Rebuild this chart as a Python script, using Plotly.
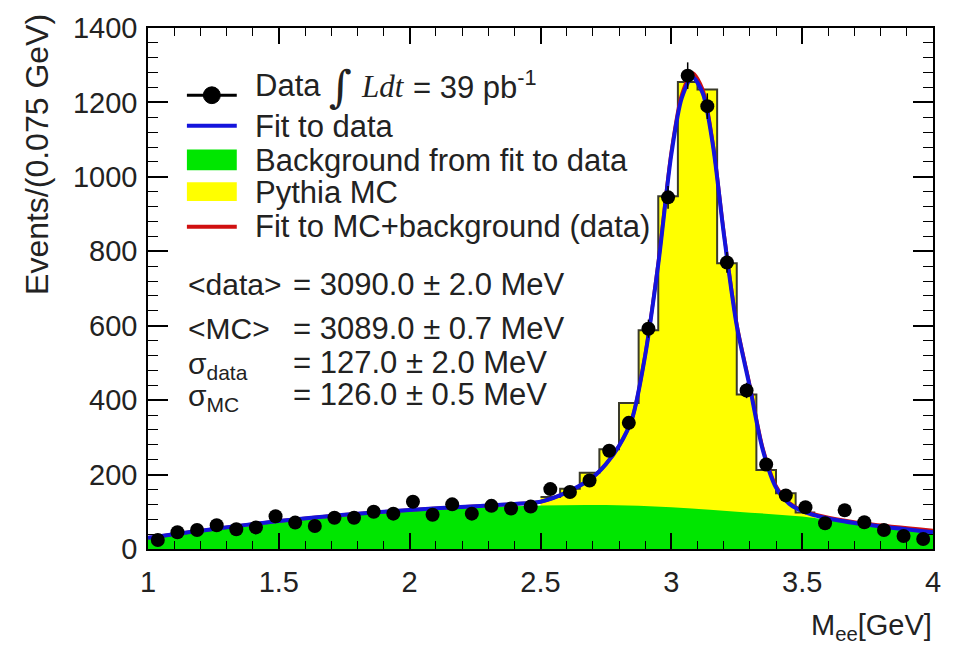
import plotly.graph_objects as go
import numpy as np

# ---------------- data ----------------
data_x = [1.0375, 1.1125, 1.1875, 1.2625, 1.3375, 1.4125, 1.4875, 1.5625, 1.6375, 1.7125,
          1.7875, 1.8625, 1.9375, 2.0125, 2.0875, 2.1625, 2.2375, 2.3125, 2.3875, 2.4625,
          2.5375, 2.6125, 2.6875, 2.7625, 2.8375, 2.9125, 2.9875, 3.0625, 3.1375, 3.2125,
          3.2875, 3.3625, 3.4375, 3.5125, 3.5875, 3.6625, 3.7375, 3.8125, 3.8875, 3.9625]
data_y = [24, 45, 51, 64, 53, 58, 88, 71, 62, 84,
          84, 100, 95, 127, 92, 120, 95, 116, 109, 114,
          161, 153, 184, 264, 339, 592, 945, 1272, 1190, 770,
          426, 227, 144, 112, 69, 104, 72, 51, 35, 27]

# Pythia MC histogram (stacked on background), bin edges and contents
mc_edges = [2.5, 2.575, 2.65, 2.725, 2.8, 2.875, 2.95, 3.025, 3.1, 3.175, 3.25, 3.325, 3.4, 3.475, 3.55]
mc_vals = [140, 162, 205, 268, 392, 588, 948, 1255, 1235, 768, 415, 212, 150, 98]

# fit curves
fit_x = [1.0, 1.25, 1.5, 1.75, 2.0, 2.25, 2.4, 2.5, 2.6, 2.7, 2.75, 2.8, 2.85, 2.9, 2.95,
         3.0, 3.04, 3.08, 3.12, 3.16, 3.2, 3.25, 3.3, 3.35, 3.4, 3.45, 3.5, 3.6, 3.75, 4.0]
fit_data = [30, 54, 75, 92, 105, 115, 121, 127, 152, 193, 228, 277, 350, 520, 765,
            1060, 1212, 1268, 1225, 1080, 850, 600, 435, 265, 165, 122, 102, 82, 65, 45]
fit_mc = [30, 54, 75, 92, 105, 115, 121, 127, 152, 193, 228, 277, 350, 522, 770,
          1068, 1222, 1280, 1235, 1085, 855, 605, 440, 270, 170, 125, 104, 85, 68, 50]

bkg_x = [1.0, 1.25, 1.5, 1.75, 2.0, 2.25, 2.5, 2.75, 3.0, 3.25, 3.5, 3.75, 4.0]
bkg_y = [27, 50, 71, 88, 101, 111, 117, 118, 112, 100, 87, 63, 42]

x_tickvals = [1, 1.5, 2, 2.5, 3, 3.5, 4]
x_ticktext = ["1", "1.5", "2", "2.5", "3", "3.5", "4"]
y_tickvals = [0, 200, 400, 600, 800, 1000, 1200, 1400]

# ---------------- styling ----------------
GREEN = "#00e600"
YELLOW = "#ffff00"
BLUE = "#1414dc"
RED = "#d01010"
TXT = "#222222"
FONT = "Liberation Sans"
FS = 31

W, H = 953, 645
L, R, T, B = 148, 18, 22, 96
PW, PH = W - L - R, H - T - B


def px(x):
    return (x - L) / PW


def py(y):
    return (H - B - y) / PH


fig = go.Figure()

# yellow MC fill (stepped)
step_x = []
step_y = []
for i, v in enumerate(mc_vals):
    step_x += [mc_edges[i], mc_edges[i + 1]]
    step_y += [v, v]
fig.add_trace(go.Scatter(x=step_x, y=step_y, mode="lines", fill="tozeroy",
                         fillcolor=YELLOW, line=dict(width=0, color=YELLOW),
                         hoverinfo="skip", showlegend=False))
# green background
fig.add_trace(go.Scatter(x=bkg_x, y=bkg_y, mode="lines", fill="tozeroy",
                         fillcolor=GREEN, line=dict(width=0, color=GREEN, shape="spline"),
                         hoverinfo="skip", showlegend=False))
# MC histogram outline
fig.add_trace(go.Scatter(x=mc_edges, y=mc_vals + [mc_vals[-1]], mode="lines",
                         line=dict(width=2, color="#3a3a2a", shape="hv"),
                         hoverinfo="skip", showlegend=False))
# red fit
fig.add_trace(go.Scatter(x=fit_x, y=fit_mc, mode="lines",
                         line=dict(width=3.5, color=RED, shape="spline", smoothing=0.8),
                         showlegend=False))
# blue fit
fig.add_trace(go.Scatter(x=fit_x, y=fit_data, mode="lines",
                         line=dict(width=4, color=BLUE, shape="spline", smoothing=0.8),
                         showlegend=False))
# data
fig.add_trace(go.Scatter(x=data_x, y=data_y, mode="markers",
                         marker=dict(size=14, color="black"),
                         error_y=dict(type="data", array=np.sqrt(data_y).tolist(),
                                      color="black", thickness=1.5, width=0),
                         showlegend=False))

axis_common = dict(showgrid=False, zeroline=False, showline=True, linecolor="black",
                   linewidth=1.5, mirror="ticks", ticks="inside", tickcolor="black",
                   tickwidth=1.5,
                   tickfont=dict(family=FONT, size=29, color=TXT))

fig.update_layout(
    width=W, height=H,
    margin=dict(l=L, r=R, t=T, b=B, pad=0),
    paper_bgcolor="white", plot_bgcolor="white",
    xaxis=dict(range=[1, 4], tickvals=x_tickvals, ticktext=x_ticktext, ticklen=16,
               minor=dict(ticks="inside", dtick=0.1, ticklen=8, tickcolor="black", tickwidth=1.2),
               ticklabelstandoff=6, **axis_common),
    yaxis=dict(range=[0, 1400], tickvals=y_tickvals, ticklen=20,
               minor=dict(ticks="inside", dtick=40, ticklen=10, tickcolor="black", tickwidth=1.2),
               ticklabelstandoff=3, **axis_common),
)

ann = []


def text(x, y, s, size=FS, anchor="left", family=FONT, **kw):
    ann.append(dict(x=px(x), y=py(y), xref="paper", yref="paper", text=s, showarrow=False,
                    xanchor=anchor, yanchor="middle",
                    font=dict(family=family, size=size, color=TXT), **kw))


# axis titles
ann.append(dict(x=px(36), y=py(6), xref="paper", yref="paper", text="Events/(0.075 GeV)",
                showarrow=False, textangle=-90, xanchor="center", yanchor="top",
                font=dict(family=FONT, size=32, color=TXT)))
text(936, 628, "M<sub>ee</sub>[GeV]", size=29, anchor="right")

# legend texts
text(253, 80, "Data")
text(327, 81, "∫", size=44, family="DejaVu Serif")
text(360, 81, "<i>Ldt</i>", size=31, family="Liberation Serif")
text(412, 80, "= 39 pb<sup>-1</sup>")
text(253, 122, "Fit to data")
text(253, 156, "Background from fit to data")
text(253, 188, "Pythia MC")
text(253, 223, "Fit to MC+background (data)")

# stats
text(186, 281, "&lt;data&gt;", size=30)
text(291, 281, "= 3090.0 ± 2.0 MeV")
text(186, 326, "&lt;MC&gt;", size=30)
text(291, 326, "= 3089.0 ± 0.7 MeV")
text(186, 363, "σ<sub>data</sub>", size=30)
text(291, 360, "= 127.0 ± 2.0 MeV")
text(186, 396, "σ<sub>MC</sub>", size=30)
text(291, 393, "= 126.0 ± 0.5 MeV")

fig.update_layout(annotations=ann)

# legend symbols
shapes = [
    dict(type="line", xref="paper", yref="paper", x0=px(187), x1=px(237), y0=py(90), y1=py(90),
         line=dict(color="black", width=3)),
    dict(type="circle", xref="paper", yref="paper", x0=px(203.5), x1=px(220.5), y0=py(98.5), y1=py(81.5),
         fillcolor="black", line=dict(color="black", width=1)),
    dict(type="line", xref="paper", yref="paper", x0=px(187), x1=px(237), y0=py(121), y1=py(121),
         line=dict(color=BLUE, width=4)),
    dict(type="rect", xref="paper", yref="paper", x0=px(187), x1=px(237), y0=py(166), y1=py(145),
         fillcolor=GREEN, line=dict(width=0)),
    dict(type="rect", xref="paper", yref="paper", x0=px(187), x1=px(237), y0=py(197), y1=py(178),
         fillcolor=YELLOW, line=dict(width=0)),
    dict(type="line", xref="paper", yref="paper", x0=px(187), x1=px(237), y0=py(223), y1=py(223),
         line=dict(color=RED, width=4)),
]
fig.update_layout(shapes=shapes)

fig.write_html("out.html")
